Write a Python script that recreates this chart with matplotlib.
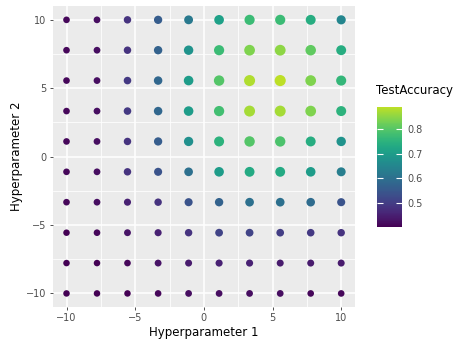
import numpy as np
import matplotlib
matplotlib.use("Agg")
from matplotlib import pyplot as plt
from matplotlib.colors import ListedColormap
from matplotlib.ticker import MultipleLocator

# grid of hyperparameter values
hp1 = [-10, -7.78, -5.56, -3.33, -1.11, 1.11, 3.33, 5.56, 7.78, 10]
hp2 = [10, 7.78, 5.56, 3.33, 1.11, -1.11, -3.33, -5.56, -7.78, -10]

# test accuracy, one row per hp2 value (top to bottom), columns follow hp1
acc_rows = [
    [0.41, 0.42, 0.48, 0.56, 0.62, 0.71, 0.77, 0.77, 0.74, 0.65],
    [0.41, 0.42, 0.48, 0.57, 0.68, 0.77, 0.84, 0.85, 0.81, 0.74],
    [0.41, 0.42, 0.49, 0.58, 0.70, 0.80, 0.88, 0.89, 0.84, 0.76],
    [0.41, 0.42, 0.49, 0.58, 0.70, 0.78, 0.87, 0.87, 0.84, 0.75],
    [0.41, 0.42, 0.48, 0.56, 0.67, 0.75, 0.80, 0.79, 0.74, 0.68],
    [0.41, 0.42, 0.48, 0.54, 0.60, 0.70, 0.73, 0.73, 0.70, 0.63],
    [0.41, 0.42, 0.45, 0.48, 0.54, 0.57, 0.60, 0.60, 0.59, 0.54],
    [0.40, 0.41, 0.43, 0.45, 0.48, 0.51, 0.51, 0.50, 0.49, 0.48],
    [0.40, 0.40, 0.41, 0.43, 0.44, 0.45, 0.45, 0.44, 0.44, 0.44],
    [0.40, 0.40, 0.40, 0.41, 0.42, 0.42, 0.42, 0.42, 0.41, 0.41],
]
cbar_ticks = [0.5, 0.6, 0.7, 0.8]

# flatten to long format
xx, yy = np.meshgrid(hp1, hp2)
acc = np.array(acc_rows)
x = xx.ravel()
y = yy.ravel()
z = acc.ravel()
vmin, vmax = z.min(), z.max()
sizes = 22 + (z - vmin) / (vmax - vmin) * 42

# viridis palette stopping short of the bright yellow end
cmap = ListedColormap(plt.get_cmap('viridis')(np.linspace(0, 0.9, 256)))

fig = plt.figure(figsize=(4.67, 3.42), dpi=100)
ax = fig.add_axes([0.113, 0.102, 0.647, 0.880])
ax.set_facecolor('#EBEBEB')
for s in ax.spines.values():
    s.set_visible(False)
ax.set_xlim(-11, 11)
ax.set_ylim(-11, 11)
ax.xaxis.set_major_locator(MultipleLocator(5))
ax.yaxis.set_major_locator(MultipleLocator(5))
ax.xaxis.set_minor_locator(MultipleLocator(2.5))
ax.yaxis.set_minor_locator(MultipleLocator(2.5))
ax.grid(which='major', color='white', linewidth=1.1)
ax.grid(which='minor', color='white', linewidth=0.55)
ax.set_axisbelow(True)
ax.tick_params(which='major', length=2.5, width=0.6, color='#333333',
        labelsize=7, labelcolor='#4D4D4D', pad=2)
ax.tick_params(which='minor', length=0)

sc = ax.scatter(x, y, c=z, s=sizes, cmap=cmap, vmin=vmin, vmax=vmax,
        edgecolors='none', zorder=3)
ax.set_xlabel('Hyperparameter 1', fontsize=8.5, labelpad=2)
ax.set_ylabel('Hyperparameter 2', fontsize=8.5, labelpad=2)

# colour bar legend
cax = fig.add_axes([0.807, 0.336, 0.053, 0.351])
cb = fig.colorbar(sc, cax=cax, ticks=cbar_ticks)
cb.outline.set_visible(False)
cax.tick_params(axis='y', direction='in', color='white', length=4,
        width=0.8, left=True, right=True, labelsize=7,
        labelcolor='#4D4D4D', pad=4)
cax.set_yticklabels(['%.1f' % t for t in cbar_ticks])
fig.text(0.805, 0.715, 'TestAccuracy', fontsize=8.5, ha='left', va='bottom')

plt.savefig('out.png', dpi=100)
